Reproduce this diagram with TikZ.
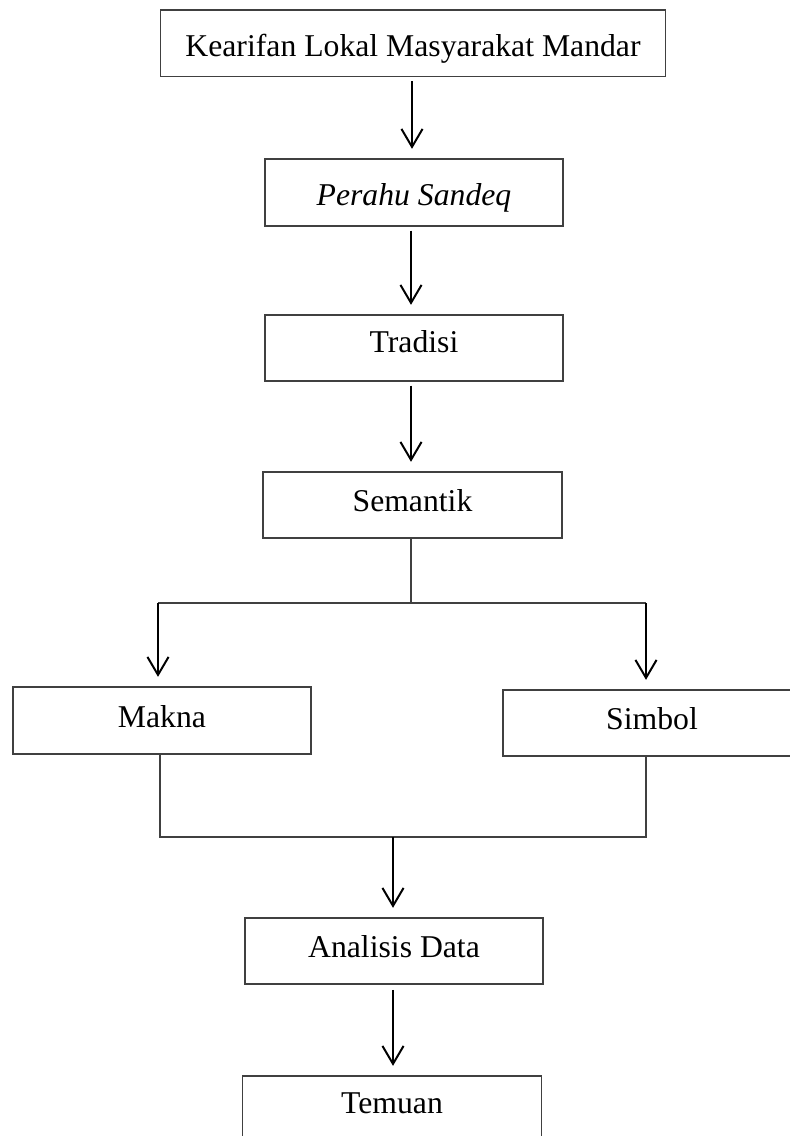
\documentclass[tikz,border=0pt]{standalone}
\usepackage{fontspec}
\setmainfont{Liberation Serif}
\usetikzlibrary{arrows.meta}

\begin{document}
\begin{tikzpicture}[x=0.3785pt, y=-0.3785pt,
box/.style={draw=black!75, line width=0.5pt, inner sep=0pt, minimum width=112.8pt,
  text height=14.76pt, text depth=10.22pt, font=\fontsize{12}{14}\selectfont},
arr/.style={line width=0.75pt, -{Straight Barb[length=6.8pt, width=8pt]},
  shorten <=1.5pt, shorten >=3.6pt},
link/.style={draw=black!75, line width=0.75pt}]

\clip (0,0) rectangle (790,1136);
\useasboundingbox (0,0) rectangle (790,1136);

\node[box, minimum width=190.9pt, text height=17.79pt, text depth=7.38pt] (kearifan) at (413,43.25) {Kearifan Lokal Masyarakat Mandar};
\node[box, text height=17.79pt, text depth=7.57pt] (perahu) at (414,192.5) {\itshape Perahu Sandeq};
\node[box, text height=14.38pt, text depth=10.6pt] (tradisi) at (414,348) {Tradisi};
\node[box, minimum width=113.2pt] (semantik) at (412.5,505) {Semantik};
\node[box, text height=15.14pt] (makna) at (162,720.5) {Makna};
\node[box] (simbol) at (652,723) {Simbol};
\node[box] (analisis) at (394,951) {Analisis Data};
\node[box, minimum width=113.2pt, text height=14pt, text depth=10.98pt] (temuan) at (392,1109) {Temuan};

\coordinate (split) at (411,603);
\coordinate (lsplit) at (158,603);
\coordinate (rsplit) at (646,603);
\coordinate (ljoin) at (160,837);
\coordinate (rjoin) at (646,837);
\coordinate (join) at (393,837);

\draw[arr] (kearifan.south -| 412,0) -- (perahu.north -| 412,0);
\draw[arr] (perahu.south -| 411,0) -- (tradisi.north -| 411,0);
\draw[arr] (tradisi.south -| 411,0) -- (semantik.north -| 411,0);

% cabang ke makna dan simbol
\draw[link] (semantik.south -| split) -- (split);
\draw[link] (lsplit) -- (rsplit);
\draw[arr, shorten <=0pt] (lsplit) -- (lsplit |- makna.north);
\draw[arr, shorten <=0pt] (rsplit) -- (rsplit |- simbol.north);

% gabung ke analisis data
\draw[link] (makna.south -| ljoin) -- (ljoin) -- (rjoin) -- (simbol.south -| rjoin);
\draw[arr, shorten <=0pt] (join) -- (join |- analisis.north);
\draw[arr, shorten <=2pt] (analisis.south -| join) -- (temuan.north -| join);
\end{tikzpicture}
\end{document}
